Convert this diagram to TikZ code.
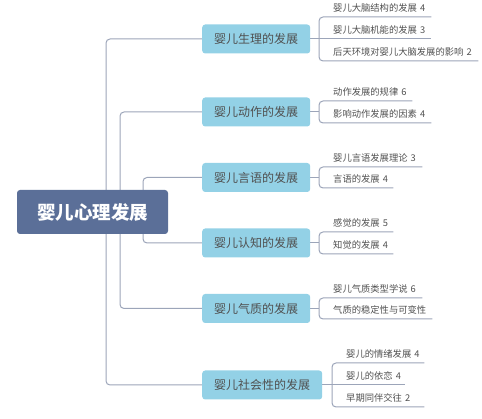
\documentclass[tikz,border=0pt]{standalone}
\usepackage{fontspec}
\setmainfont{Noto Sans CJK SC}
\usetikzlibrary{positioning,backgrounds}
\definecolor{croot}{HTML}{5B6F98}
\definecolor{cbranch}{HTML}{93D1E6}
\definecolor{cline}{HTML}{9CA5B9}
\definecolor{ctext}{HTML}{505050}

\begin{document}
\begin{tikzpicture}[x=1pt,y=-1pt,
  root/.style={rectangle,rounded corners=3pt,fill=croot,text=white,font=\fontsize{18.5}{20}\selectfont\bfseries,minimum width=151pt,minimum height=44pt,inner sep=0pt},
  branch/.style={rectangle,rounded corners=3pt,fill=cbranch,text=ctext,font=\fontsize{12}{14}\selectfont,minimum height=29pt,inner xsep=12pt,inner ysep=0pt,anchor=west},
  leaf/.style={anchor=south west,inner xsep=0pt,inner ysep=3.5pt,text=ctext,font=\fontsize{9.3}{11}\selectfont,text height=7pt,text depth=1.5pt,align=left},
  link/.style={draw=cline,line width=1pt,rounded corners=4pt}]
  \useasboundingbox (0,0) rectangle (482,419);

  % centre
  \node[root] (root) at (92.5,212) {婴儿心理发展};

  % branches
  \node[branch] (s1) at (202,39) {婴儿生理的发展};
  \node[branch] (s2) at (202,112) {婴儿动作的发展};
  \node[branch] (s3) at (202,177.5) {婴儿言语的发展};
  \node[branch] (s4) at (202,243) {婴儿认知的发展};
  \node[branch] (s5) at (202,308.5) {婴儿气质的发展};
  \node[branch] (s6) at (202,385) {婴儿社会性的发展};

  % leaves
  \node[leaf,text width=98pt] (l11) at (333,17) {婴儿大脑结构的发展 4};
  \node[leaf,text width=98pt] (l12) at (333,39) {婴儿大脑机能的发展 3};
  \node[leaf,text width=145pt] (l13) at (333,61) {后天环境对婴儿大脑发展的影响 2};
  \node[leaf,text width=79pt] (l21) at (333,101) {动作发展的规律 6};
  \node[leaf,text width=98pt] (l22) at (333,123) {影响动作发展的因素 4};
  \node[leaf,text width=89pt] (l31) at (333,167) {婴儿言语发展理论 3};
  \node[leaf,text width=60pt] (l32) at (333,188) {言语的发展 4};
  \node[leaf,text width=60pt] (l41) at (333,232) {感觉的发展 5};
  \node[leaf,text width=60pt] (l42) at (333,254) {知觉的发展 4};
  \node[leaf,text width=89pt] (l51) at (333,298) {婴儿气质类型学说 6};
  \node[leaf,text width=99pt] (l52) at (333,319) {气质的稳定性与可变性};
  \node[leaf,text width=78pt] (l61) at (346,363) {婴儿的情绪发展 4};
  \node[leaf,text width=59pt] (l62) at (346,385) {婴儿的依恋 4};
  \node[leaf,text width=78pt] (l63) at (346,407) {早期同伴交往 2};

  \coordinate (t1) at (106,212);
  \coordinate (t2) at (120,212);
  \coordinate (t3) at (143,212);
  \coordinate (b1) at (319,39);
  \coordinate (b2) at (319,112);
  \coordinate (b3) at (319,177.5);
  \coordinate (b4) at (319,243);
  \coordinate (b5) at (319,308.5);
  \coordinate (b6) at (332,385);

  \begin{scope}[on background layer]
    % trunk
    \draw[link] (s1.west) -| (t1) |- (s6.west);
    \draw[link] (s2.west) -| (t2) |- (s5.west);
    \draw[link] (s3.west) -| (t3) |- (s4.west);
    % brackets
    \draw[link] (l11.south east) -| (b1) |- (l13.south east);
    \draw[link] (s1.east) -- (l12.south east);
    \draw[link] (l21.south east) -| (b2) |- (l22.south east);
    \draw[link] (s2.east) -- (b2);
    \draw[link] (l31.south east) -| (b3) |- (l32.south east);
    \draw[link] (s3.east) -- (b3);
    \draw[link] (l41.south east) -| (b4) |- (l42.south east);
    \draw[link] (s4.east) -- (b4);
    \draw[link] (l51.south east) -| (b5) |- (l52.south east);
    \draw[link] (s5.east) -- (b5);
    \draw[link] (l61.south east) -| (b6) |- (l63.south east);
    \draw[link] (s6.east) -- (l62.south east);
  \end{scope}
\end{tikzpicture}
\end{document}
